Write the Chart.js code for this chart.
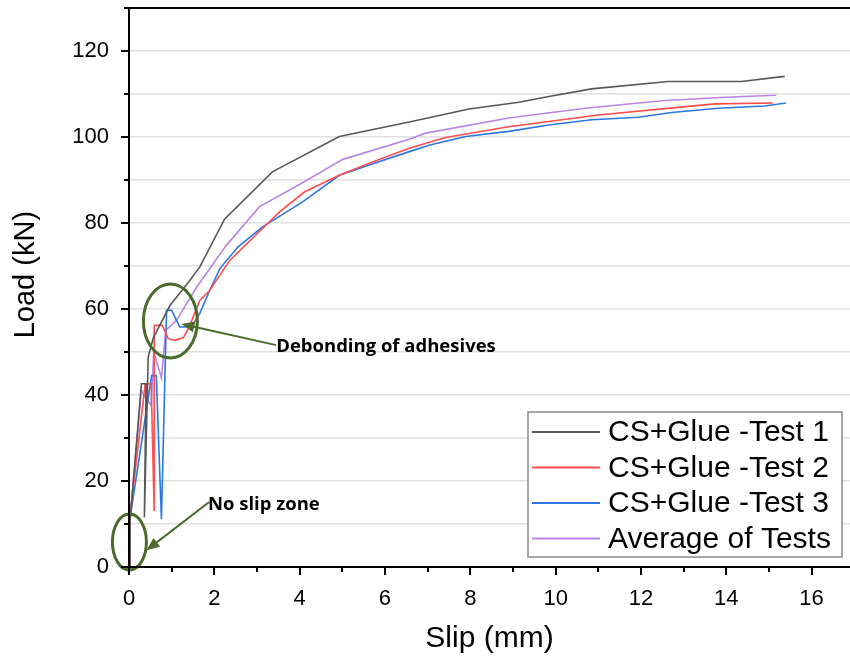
<!DOCTYPE html>
<html>
<head>
<meta charset="utf-8">
<title>Load - Slip</title>
<script src="https://cdn.jsdelivr.net/npm/chart.js@4.4.1/dist/chart.umd.min.js"></script>
<style>
  html, body { margin: 0; padding: 0; background: #fff; }
  #wrap { position: relative; width: 850px; height: 660px; }
</style>
</head>
<body>
<div id="wrap"><canvas id="slip-chart"></canvas></div>
<script>
// values (slip in mm, load in kN)
const test1Slip = [0, 0.02, 0.29, 0.40, 0.36, 0.45, 0.57, 0.96, 1.43, 1.66, 2.24, 3.36, 4.93, 6.57, 7.97, 9.14, 9.84, 10.84, 12.64, 14.35, 15.37];
const test1Load = [0, 10, 42.6, 42.6, 11.5, 48.8, 53.3, 60.8, 66.7, 69.8, 80.9, 91.9, 100.1, 103.5, 106.5, 108.1, 109.4, 111.2, 112.9, 112.9, 114.1];

const test2Slip = [0, 0.02, 0.38, 0.52, 0.59, 0.59, 0.78, 0.92, 1.07, 1.27, 1.41, 1.66, 1.89, 2.36, 3.53, 4.11, 4.93, 5.63, 6.57, 7.42, 8.9, 11.0, 12.56, 13.73, 15.09];
const test2Load = [0, 11.5, 42.6, 42.6, 13, 56.2, 56.2, 53.1, 52.7, 53.3, 55.8, 62, 64.3, 71.3, 82.6, 87.2, 91.1, 93.9, 97.4, 99.9, 102.4, 105.1, 106.6, 107.7, 107.9];

const test3Slip = [0, 0.02, 0.53, 0.64, 0.76, 0.88, 1.0, 1.19, 1.46, 1.66, 1.89, 2.13, 2.55, 3.13, 4.07, 4.93, 5.63, 6.57, 7.03, 7.89, 8.9, 9.84, 10.85, 11.94, 12.72, 13.81, 14.9, 15.4];
const test3Load = [0, 11, 44.5, 44.5, 11.1, 59.7, 59.7, 55.8, 55.8, 59, 64.3, 69.4, 74.4, 79.1, 84.9, 91.1, 93.5, 96.6, 98.1, 100.1, 101.3, 102.8, 104, 104.6, 105.7, 106.7, 107.2, 107.9];

const avgSlip = [0, 0.02, 0.29, 0.52, 0.58, 0.76, 0.86, 1.11, 1.58, 2.28, 3.06, 4.11, 5.01, 6.57, 6.95, 8.9, 10.69, 12.56, 14.12, 15.17];
const avgLoad = [0, 11, 41, 37.5, 50, 44, 55, 57.3, 65, 74.8, 83.8, 89.6, 94.8, 99.5, 100.9, 104.4, 106.7, 108.5, 109.3, 109.7];

const seriesNames = ['CS+Glue -Test 1', 'CS+Glue -Test 2', 'CS+Glue -Test 3', 'Average of Tests'];

const xTicks = [0, 1, 2, 3, 4, 5, 6, 7, 8, 9, 10, 11, 12, 13, 14, 15, 16];
const yTicks = [0, 10, 20, 30, 40, 50, 60, 70, 80, 90, 100, 110, 120, 130];

const FONT = '"Liberation Sans", Arial, sans-serif';
const GREEN = '#4b6a2c';
const Y_TITLE = 'Load (kN)';

const toPoints = (xs, ys) => xs.map((x, i) => ({ x: x, y: ys[i] }));

// axis lines, top border, tick marks and the y title
const frameAndTicks = {
  id: 'frameAndTicks',
  afterDraw(chart) {
    const { ctx, chartArea: a, scales: { x, y } } = chart;
    ctx.save();
    ctx.strokeStyle = '#000';
    ctx.lineWidth = 2;
    ctx.beginPath();
    xTicks.forEach(v => {
      const px = Math.round(x.getPixelForValue(v));
      const len = v % 2 === 0 ? 8 : 5;
      ctx.moveTo(px, a.bottom);
      ctx.lineTo(px, a.bottom + len);
    });
    yTicks.forEach(v => {
      const py = Math.round(y.getPixelForValue(v));
      const len = v % 20 === 0 ? 8 : 5;
      ctx.moveTo(a.left, py);
      ctx.lineTo(a.left - len, py);
    });
    ctx.moveTo(a.left, a.top);
    ctx.lineTo(a.right, a.top);
    ctx.moveTo(a.left, a.top);
    ctx.lineTo(a.left, a.bottom + 1);
    ctx.moveTo(a.left - 1, a.bottom);
    ctx.lineTo(a.right, a.bottom);
    ctx.stroke();

    // y title sits a little above the middle of the axis in the original
    ctx.translate(26, y.getPixelForValue(68));
    ctx.rotate(-Math.PI / 2);
    ctx.fillStyle = '#000';
    ctx.font = '29px ' + FONT;
    ctx.textAlign = 'center';
    ctx.textBaseline = 'middle';
    ctx.fillText(Y_TITLE, 0, 0);
    ctx.restore();
  }
};

// callouts: ellipses, arrows and text, placed in data units
const callouts = [
  { ellipse: [0.97, 57.2, 27, 37], from: [3.45, 51.6], to: [1.23, 56.5], text: 'Debonding of adhesives', at: [3.45, 51.2] },
  { ellipse: [0.01, 5.8, 17, 28], from: [1.88, 15.1], to: [0.41, 3.9], text: 'No slip zone', at: [1.85, 14.4] }
];

const calloutPlugin = {
  id: 'callouts',
  afterDatasetsDraw(chart) {
    const { ctx, scales: { x, y } } = chart;
    ctx.save();
    callouts.forEach(c => {
      const [ex, ey, rx, ry] = c.ellipse;
      ctx.strokeStyle = GREEN;
      ctx.lineWidth = 3;
      ctx.beginPath();
      ctx.ellipse(x.getPixelForValue(ex), y.getPixelForValue(ey), rx, ry, 0, 0, Math.PI * 2);
      ctx.stroke();

      const x1 = x.getPixelForValue(c.from[0]), y1 = y.getPixelForValue(c.from[1]);
      const x2 = x.getPixelForValue(c.to[0]), y2 = y.getPixelForValue(c.to[1]);
      const ang = Math.atan2(y2 - y1, x2 - x1);
      const head = 13;
      ctx.lineWidth = 2;
      ctx.beginPath();
      ctx.moveTo(x1, y1);
      ctx.lineTo(x2 - Math.cos(ang) * head * 0.8, y2 - Math.sin(ang) * head * 0.8);
      ctx.stroke();
      ctx.fillStyle = GREEN;
      ctx.beginPath();
      ctx.moveTo(x2, y2);
      ctx.lineTo(x2 - head * Math.cos(ang) + 5.5 * Math.sin(ang), y2 - head * Math.sin(ang) - 5.5 * Math.cos(ang));
      ctx.lineTo(x2 - head * Math.cos(ang) - 5.5 * Math.sin(ang), y2 - head * Math.sin(ang) + 5.5 * Math.cos(ang));
      ctx.closePath();
      ctx.fill();

      ctx.fillStyle = '#000';
      ctx.font = 'bold 18.5px "Open Sans", "Noto Sans", sans-serif';
      ctx.textAlign = 'left';
      ctx.textBaseline = 'middle';
      ctx.fillText(c.text, x.getPixelForValue(c.at[0]), y.getPixelForValue(c.at[1]));
    });
    ctx.restore();
  }
};

// boxed legend in the lower right corner of the plot
const boxLegend = {
  id: 'boxLegend',
  afterDraw(chart) {
    const { ctx } = chart;
    const box = { left: 528, top: 412, width: 314, height: 145 };
    ctx.save();
    ctx.fillStyle = '#fff';
    ctx.fillRect(box.left, box.top, box.width, box.height);
    ctx.strokeStyle = '#8a8a8a';
    ctx.lineWidth = 1.5;
    ctx.strokeRect(box.left, box.top, box.width, box.height);
    ctx.font = '30px ' + FONT;
    ctx.textAlign = 'left';
    ctx.textBaseline = 'middle';
    chart.data.datasets.forEach((ds, i) => {
      const rowY = box.top + 20 + i * 35.5;
      ctx.strokeStyle = ds.borderColor;
      ctx.lineWidth = 2;
      ctx.beginPath();
      ctx.moveTo(box.left + 4, rowY);
      ctx.lineTo(box.left + 72, rowY);
      ctx.stroke();
      ctx.fillStyle = '#000';
      ctx.fillText(ds.label, box.left + 80, rowY + 1);
    });
    ctx.restore();
  }
};

const ctx = document.getElementById('slip-chart');
new Chart(ctx, {
  type: 'scatter',
  data: {
    datasets: [
      { label: seriesNames[0], data: toPoints(test1Slip, test1Load), borderColor: '#585858' },
      { label: seriesNames[1], data: toPoints(test2Slip, test2Load), borderColor: '#ff4d4d' },
      { label: seriesNames[2], data: toPoints(test3Slip, test3Load), borderColor: '#2a78e4' },
      { label: seriesNames[3], data: toPoints(avgSlip, avgLoad), borderColor: '#b985e8' }
    ].map(ds => Object.assign(ds, {
      showLine: true,
      borderWidth: 1.6,
      pointRadius: 0,
      tension: 0,
      fill: false
    }))
  },
  options: {
    responsive: true,
    maintainAspectRatio: false,
    animation: false,
    layout: { padding: { top: 8, right: 0, left: 0, bottom: 0 } },
    plugins: {
      legend: { display: false },
      tooltip: { enabled: false }
    },
    scales: {
      x: {
        type: 'linear',
        min: 0,
        max: 16.9,
        afterBuildTicks: s => { s.ticks = xTicks.map(v => ({ value: v })); },
        afterFit: s => { s.height = 93; s.paddingLeft = 0; s.paddingRight = 0; },
        grid: { display: false },
        border: { display: false },
        ticks: {
          autoSkip: false,
          maxRotation: 0,
          padding: 11,
          color: '#000',
          font: { family: FONT, size: 22 },
          callback: v => (v % 2 === 0 ? v : '')
        },
        title: {
          display: true,
          text: 'Slip (mm)',
          color: '#000',
          font: { family: FONT, size: 30 },
          padding: { top: 0, bottom: 3 }
        }
      },
      y: {
        type: 'linear',
        min: 0,
        max: 130,
        afterBuildTicks: s => { s.ticks = yTicks.map(v => ({ value: v })); },
        afterFit: s => { s.width = 129; s.paddingTop = 0; s.paddingBottom = 0; },
        grid: { color: '#e0e0e0', lineWidth: 1.5, drawTicks: false },
        border: { display: false },
        ticks: {
          autoSkip: false,
          padding: 20,
          color: '#000',
          font: { family: FONT, size: 22 },
          callback: v => (v % 20 === 0 && v <= 120 ? v : '')
        },
        title: { display: false }
      }
    }
  },
  plugins: [frameAndTicks, calloutPlugin, boxLegend]
});
</script>
</body>
</html>
